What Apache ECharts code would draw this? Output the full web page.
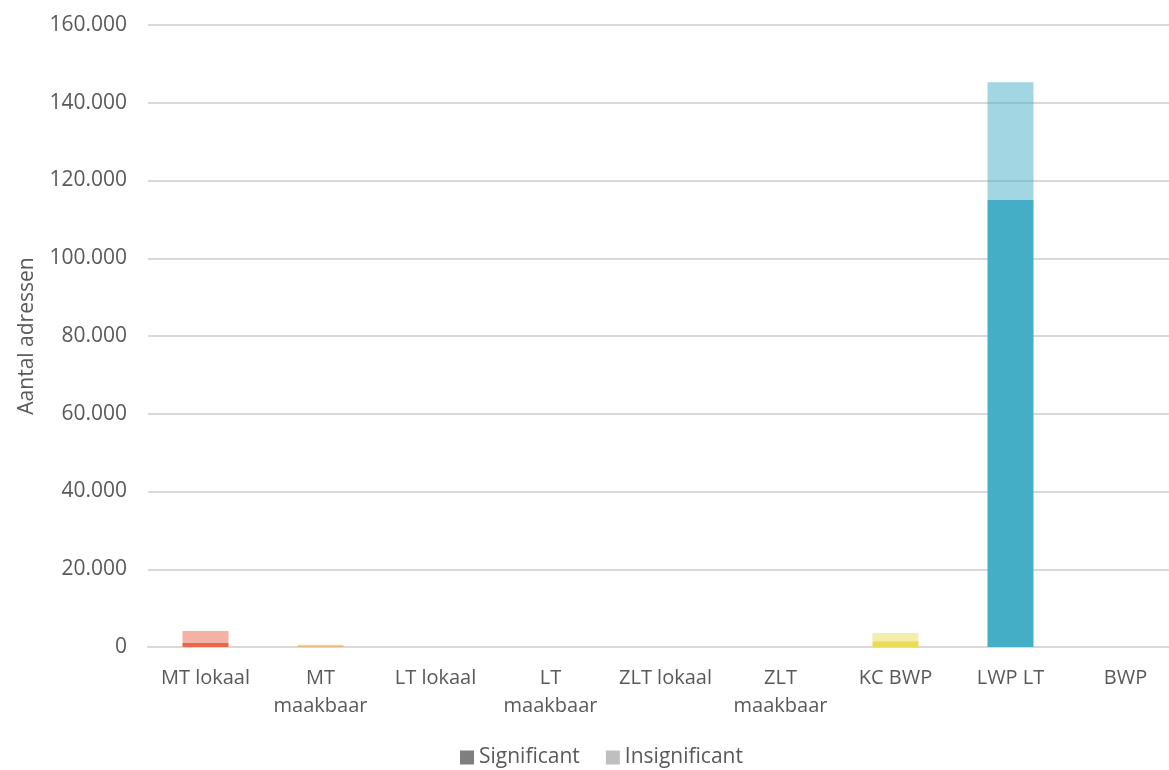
<!DOCTYPE html>
<html>
<head>
<meta charset="utf-8">
<script src="https://cdn.jsdelivr.net/npm/echarts@6/dist/echarts.min.js"></script>
<style>
  html, body { margin: 0; padding: 0; background: #fff; }
  #chart { width: 1169px; height: 770px; }
</style>
</head>
<body>
<div id="chart"></div>
<script>
const categories = ['MT lokaal', 'MT\nmaakbaar', 'LT lokaal', 'LT\nmaakbaar', 'ZLT lokaal', 'ZLT\nmaakbaar', 'KC BWP', 'LWP LT', 'BWP']
const significant = [1000, 50, 0, 0, 0, 0, 1500, 115000, 0]
const insignificant = [3100, 500, 0, 0, 0, 0, 2100, 30300, 0]
const barColors = ['#e8664a', '#eda33a', '#8cc06b', '#5b9bd5', '#9b72b0', '#a5a5a5', '#ebdc58', '#43aec5', '#4472c4']

const chart = echarts.init(document.getElementById('chart'))

const fmt = v => v === 0 ? '0' : v.toLocaleString('de-DE')

chart.setOption({
  animation: false,
  textStyle: { fontFamily: 'Open Sans, Noto Sans, sans-serif' },
  // plot area runs a little past the right edge, as in the source image
  grid: { left: 148, width: 1035, top: 25, bottom: 123, outerBoundsMode: 'none', containLabel: false },
  legend: {
    bottom: -3, left: 455,
    itemWidth: 14, itemHeight: 14, itemGap: 26,
    icon: 'rect',
    textStyle: { color: '#595959', fontSize: 21 },
    data: ['Significant', 'Insignificant'],
  },
  xAxis: {
    type: 'category',
    data: categories,
    axisLine: { lineStyle: { color: '#d9d9d9', width: 2 } },
    axisTick: { show: false },
    axisLabel: { color: '#595959', fontSize: 20, lineHeight: 28, margin: 17, interval: 0 },
  },
  yAxis: {
    type: 'value',
    min: 0, max: 160000, interval: 20000,
    name: 'Aantal adressen',
    nameLocation: 'middle',
    nameGap: 110,
    nameTextStyle: { color: '#595959', fontSize: 21 },
    axisLine: { show: false },
    axisTick: { show: false },
    axisLabel: { color: '#595959', fontSize: 21, margin: 21, formatter: fmt },
    splitLine: { lineStyle: { color: '#d9d9d9', width: 2 } },
  },
  series: [
    {
      name: 'Significant', type: 'bar', stack: 'a', barWidth: '40%',
      itemStyle: { color: '#7f7f7f' },
      data: significant.map((v, i) => ({ value: v, itemStyle: { color: barColors[i] } })),
    },
    {
      name: 'Insignificant', type: 'bar', stack: 'a', barWidth: '40%',
      itemStyle: { color: '#bfbfbf' },
      data: insignificant.map((v, i) => ({ value: v, itemStyle: { color: barColors[i], opacity: 0.5 } })),
    },
  ],
})
</script>
</body>
</html>
